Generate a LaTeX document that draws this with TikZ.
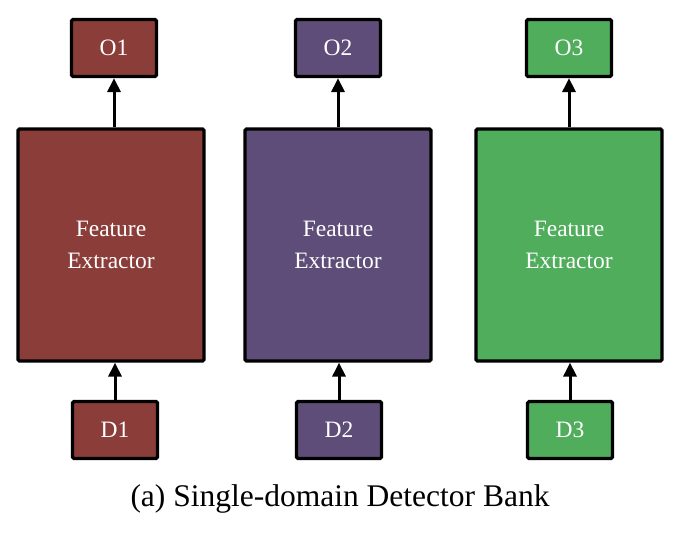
\documentclass[tikz,border=0pt]{standalone}
\usepackage{fontspec}
\setmainfont{Liberation Serif}
\usetikzlibrary{arrows.meta}
\definecolor{cred}{HTML}{8B3D3A}
\definecolor{cpur}{HTML}{5E4D78}
\definecolor{cgrn}{HTML}{4FAD5B}
\begin{document}
\begin{tikzpicture}[x=1pt,y=-1pt,
  boxstyle/.style={draw=black,line width=3.2pt,rounded corners=1.5pt,text=white,inner sep=0pt,align=center,font=\fontsize{23.5}{32}\selectfont},
  arr/.style={-{Triangle[length=14pt,width=13pt]},line width=3pt}]
\useasboundingbox (0,0) rectangle (684,548);
\foreach \i/\c/\xb/\xs in {1/cred/111/114, 2/cpur/338/338, 3/cgrn/569/569}{
  \node[boxstyle,fill=\c,minimum width=186pt,minimum height=232pt] (fe\i) at (\xb,245) {Feature\\Extractor};
  \node[boxstyle,fill=\c,minimum width=85pt,minimum height=57pt] (o\i) at (\xs,48) {O\i};
  \node[boxstyle,fill=\c,minimum width=85pt,minimum height=57pt] (d\i) at (\xs+1,430) {D\i};
  \draw[arr] (fe\i.north -| o\i.south) -- (o\i.south);
  \draw[arr] (d\i.north) -- (d\i.north |- fe\i.south);
}
\node[font=\fontsize{31.5}{36}\selectfont] (cap) at (340,499) {(a) Single-domain Detector Bank};
\end{tikzpicture}
\end{document}
